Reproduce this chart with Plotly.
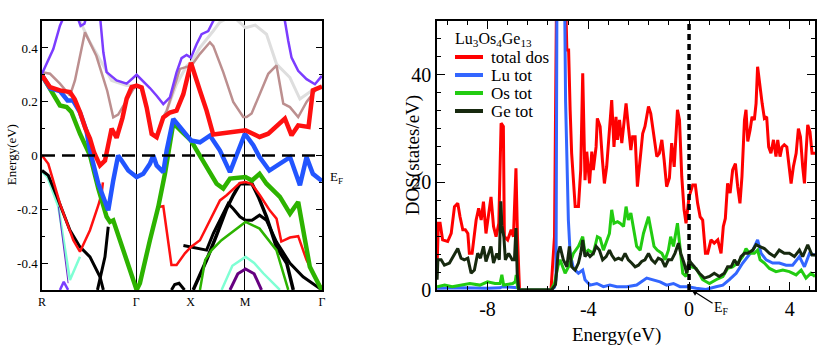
import plotly.graph_objects as go

# ---------------- band structure (left panel) ----------------
# k-path positions, units of 2*pi/a : R - Gamma - X - M - Gamma
k_ticks = [0.0, 0.866, 1.366, 1.866, 2.573]
k_labels = ['R', 'Γ', 'X', 'M', 'Γ']
e_ticks = [-0.4, -0.2, 0.0, 0.2, 0.4]
e_labels = ['-0.4', '-0.2', '0', '0.2', '0.4']

gray_k = [0.349, 0.441, 0.564, 0.64, 0.778, 0.87, 0.916, 0.962, 1.008, 1.054, 1.115, 1.146, 1.237, 1.329,
          1.369, 1.452, 1.574, 1.635, 1.75, 1.871, 1.96, 2.064, 2.156, 2.279, 2.371, 2.478, 2.573]
gray_e = [0.50, 0.421, 0.335, 0.279, 0.26, 0.26, 0.253, 0.179, 0.085, 0.072, 0.142, 0.167, 0.265, 0.333,
          0.346, 0.401, 0.463, 0.496, 0.52, 0.475, 0.485, 0.451, 0.34, 0.29, 0.21, 0.241, 0.259]

rosy_k = [0.0, 0.074, 0.165, 0.257, 0.303, 0.349, 0.395, 0.50, 0.60, 0.655, 0.70, 0.778, 0.84, 0.87, 0.916,
          0.962, 1.008, 1.054, 1.115, 1.146, 1.268, 1.375, 1.452, 1.544, 1.575, 1.666, 1.758, 1.85, 1.881,
          1.927, 2.0, 2.08, 2.156, 2.218, 2.279, 2.355, 2.432, 2.524, 2.573]
rosy_e = [0.31, 0.304, 0.267, 0.223, 0.279, 0.372, 0.458, 0.37, 0.24, 0.142, 0.152, 0.205, 0.248, 0.26, 0.253,
          0.179, 0.085, 0.072, 0.142, 0.165, 0.322, 0.335, 0.378, 0.421, 0.407, 0.31, 0.199, 0.143, 0.143,
          0.156, 0.23, 0.304, 0.335, 0.193, 0.18, 0.143, 0.199, 0.248, 0.256]

purple_k = [0.0, 0.104, 0.165, 0.25, 0.33, 0.355, 0.39, 0.41, 0.47, 0.533, 0.564, 0.594, 0.686, 0.778, 0.87,
            0.992, 1.054, 1.115, 1.176, 1.237, 1.283, 1.329, 1.369, 1.421, 1.467, 1.528, 1.574, 1.7, 2.1,
            2.233, 2.264, 2.294, 2.355, 2.432, 2.509, 2.573]
purple_e = [0.304, 0.396, 0.483, 0.56, 0.51, 0.482, 0.49, 0.52, 0.56, 0.52, 0.384, 0.31, 0.279, 0.267, 0.30,
            0.251, 0.222, 0.191, 0.216, 0.309, 0.362, 0.374, 0.364, 0.414, 0.451, 0.463, 0.50, 0.58, 0.58,
            0.50, 0.426, 0.364, 0.315, 0.284, 0.265, 0.296]

aqua1_k = [0.0, 0.05, 0.15, 0.257, 0.349]
aqua1_e = [-0.06, -0.08, -0.19, -0.463, -0.377]
aqua2_k = [1.651, 1.75, 1.871, 1.95, 2.034, 2.187]
aqua2_e = [-0.5, -0.41, -0.377, -0.40, -0.438, -0.5]

violet_k = [0.15, 0.24]
violet_e = [-0.19, -0.475]
violet_arc_k = [0.165, 0.2, 0.24]
violet_arc_e = [-0.5, -0.47, -0.5]
indigo_k = [1.728, 1.8, 1.871, 1.95, 2.018]
indigo_e = [-0.5, -0.44, -0.422, -0.44, -0.5]

black1_k = [0.0, 0.058, 0.135, 0.257, 0.349, 0.441, 0.533, 0.564]
black1_e = [-0.056, -0.074, -0.15, -0.278, -0.34, -0.377, -0.451, -0.5]
black2_k = [0.51, 0.533, 0.579, 0.609]
black2_e = [-0.5, -0.457, -0.377, -0.265]
black3_k = [1.19, 1.22, 1.26, 1.29, 1.31]
black3_e = [-0.5, -0.48, -0.475, -0.49, -0.5]
black4_k = [1.30, 1.369, 1.436, 1.513, 1.575, 1.636, 1.712, 1.758, 1.82, 1.871, 1.93, 2.0, 2.064, 2.155,
            2.28, 2.4, 2.524, 2.573]
black4_e = [-0.335, -0.34, -0.346, -0.352, -0.29, -0.241, -0.179, -0.198, -0.228, -0.241, -0.241, -0.222,
            -0.241, -0.321, -0.401, -0.451, -0.488, -0.5]
black5_k = [1.39, 1.513, 1.605, 1.697, 1.758, 1.82, 1.871, 1.93, 1.99, 2.064, 2.155, 2.25, 2.31]
black5_e = [-0.5, -0.389, -0.296, -0.198, -0.148, -0.105, -0.105, -0.105, -0.154, -0.228, -0.34, -0.401, -0.5]

green_thin_k = [1.452, 1.5, 1.56, 1.65, 1.871, 2.0, 2.155, 2.2, 2.264]
green_thin_e = [-0.5, -0.389, -0.352, -0.315, -0.247, -0.272, -0.352, -0.414, -0.5]

red_thin1_k = [0.0, 0.058, 0.165, 0.288, 0.349, 0.441, 0.518, 0.548, 0.56]
red_thin1_e = [0.0, -0.031, -0.179, -0.315, -0.358, -0.278, -0.185, -0.142, -0.10]
red_thin2_k = [1.084, 1.115, 1.19, 1.237, 1.314, 1.369, 1.452, 1.544, 1.636, 1.697, 1.758, 1.82, 1.871,
               1.927, 2.003, 2.095, 2.156, 2.2, 2.279, 2.355, 2.432, 2.509, 2.573]
red_thin2_e = [-0.191, -0.189, -0.407, -0.407, -0.364, -0.34, -0.315, -0.241, -0.167, -0.148, -0.125,
               -0.102, -0.099, -0.105, -0.148, -0.205, -0.235, -0.32, -0.305, -0.30, -0.389, -0.451, -0.495]

green_k = [0.0, 0.104, 0.165, 0.227, 0.27, 0.35, 0.441, 0.518, 0.594, 0.625, 0.655, 0.87, 0.90, 0.992, 1.069,
           1.13, 1.16, 1.207, 1.283, 1.369, 1.421, 1.513, 1.605, 1.666, 1.728, 1.871, 1.93, 2.0, 2.064, 2.187,
           2.28, 2.355, 2.4, 2.462, 2.555, 2.573]
green_e = [0.298, 0.223, 0.186, 0.18, 0.162, 0.08, 0.001, -0.123, -0.228, -0.247, -0.241, -0.5, -0.475,
           -0.315, -0.191, -0.068, 0.006, 0.12, 0.09, 0.056, 0.02, -0.043, -0.105, -0.123, -0.086, -0.08,
           -0.093, -0.068, -0.105, -0.154, -0.216, -0.173, -0.278, -0.414, -0.488, -0.5]

blue_k = [0.0, 0.074, 0.165, 0.211, 0.235, 0.285, 0.349, 0.41, 0.441, 0.518, 0.579, 0.609, 0.655, 0.70, 0.732,
          0.793, 0.87, 0.931, 0.992, 1.023, 1.054, 1.115, 1.146, 1.207, 1.283, 1.369, 1.452, 1.544, 1.605,
          1.636, 1.728, 1.80, 1.865, 1.942, 2.0, 2.09, 2.187, 2.28, 2.371, 2.432, 2.49, 2.555, 2.573]
blue_e = [0.298, 0.25, 0.24, 0.216, 0.205, 0.205, 0.16, 0.09, 0.0185, -0.105, -0.167, -0.204, -0.093, 0.0,
          -0.0185, -0.056, -0.08, -0.068, -0.031, 0.0, -0.037, -0.062, 0.0185, 0.136, 0.099, 0.056, 0.049,
          0.074, 0.037, 0.0185, -0.062, 0.0185, 0.081, 0.038, -0.006, -0.056, -0.031, -0.006, -0.111, -0.006,
          -0.068, -0.093, -0.095]

red_k = [0.0, 0.074, 0.165, 0.257, 0.30, 0.349, 0.40, 0.441, 0.48, 0.533, 0.579, 0.61, 0.64, 0.686, 0.74,
         0.778, 0.824, 0.87, 0.916, 0.962, 1.008, 1.054, 1.115, 1.176, 1.237, 1.299, 1.369, 1.452, 1.513,
         1.574, 1.728, 1.871, 2.0, 2.08, 2.233, 2.294, 2.355, 2.45, 2.49, 2.573]
red_e = [0.298, 0.254, 0.242, 0.236, 0.21, 0.162, 0.10, 0.063, 0.01, -0.037, -0.019, 0.04, 0.10, 0.066, 0.14,
         0.211, 0.254, 0.26, 0.253, 0.179, 0.08, 0.068, 0.142, 0.16, 0.167, 0.228, 0.345, 0.241, 0.167,
         0.078, 0.088, 0.094, 0.069, 0.081, 0.137, 0.075, 0.112, 0.106, 0.242, 0.256]

bands = [
    (gray_k, gray_e, '#dedede', 3),
    (rosy_k, rosy_e, '#bc8f8f', 2.5),
    (purple_k, purple_e, '#7b3cff', 2.5),
    (aqua1_k, aqua1_e, '#7fffd4', 2.5),
    (aqua2_k, aqua2_e, '#7fffd4', 2.5),
    (violet_k, violet_e, '#6a2cc8', 1),
    (violet_arc_k, violet_arc_e, '#7b3cff', 2.5),
    (indigo_k, indigo_e, '#660080', 3),
    (black1_k, black1_e, 'black', 3),
    (black2_k, black2_e, 'black', 3),
    (black3_k, black3_e, 'black', 3),
    (black4_k, black4_e, 'black', 3),
    (black5_k, black5_e, 'black', 3.5),
    (green_thin_k, green_thin_e, '#2db300', 2.5),
    (red_thin1_k, red_thin1_e, '#ff1010', 2.5),
    (red_thin2_k, red_thin2_e, '#ff1010', 2.5),
    (green_k, green_e, '#2db300', 4.5),
    (blue_k, blue_e, '#2255ff', 4.5),
    (red_k, red_e, '#ff1010', 4.5),
]

# ---------------- DOS (right panel) ----------------
tot_x = [-10, -9.95, -9.88, -9.78, -9.58, -9.44, -9.31, -9.18, -9.09, -8.98,
         -8.88, -8.78, -8.72, -8.61, -8.45, -8.35, -8.25, -8.16, -8.06, -7.96,
         -7.86, -7.76, -7.66, -7.55, -7.46, -7.37, -7.33, -7.20, -7.06, -6.97,
         -6.87, -6.81, -6.73, -5.48, -5.34, -5.25, -4.93, -4.85, -4.78, -4.72,
         -4.66, -4.52, -4.39, -4.30, -4.22, -4.13, -4.06, -3.95, -3.86, -3.80,
         -3.69, -3.64, -3.53, -3.44, -3.36, -3.27, -3.16, -3.07, -2.98, -2.90,
         -2.84, -2.76, -2.67, -2.58, -2.50, -2.41, -2.31, -2.24, -2.14, -2.05,
         -1.94, -1.84, -1.75, -1.61, -1.52, -1.42, -1.28, -1.18, -1.08, -0.99,
         -0.89, -0.78, -0.69, -0.59, -0.46, -0.38, -0.29, -0.20, -0.12, 0.0,
         0.145, 0.25, 0.34, 0.44, 0.54, 0.65, 0.74, 0.87, 1.0, 1.14,
         1.27, 1.36, 1.44, 1.53, 1.63, 1.73, 1.84, 1.93, 2.02, 2.10,
         2.20, 2.26, 2.33, 2.42, 2.50, 2.59, 2.66, 2.72, 2.79, 2.90,
         2.99, 3.08, 3.16, 3.25, 3.35, 3.45, 3.52, 3.61, 3.69, 3.78,
         3.88, 3.95, 4.05, 4.14, 4.25, 4.34, 4.42, 4.51, 4.58, 4.64,
         4.71, 4.80, 4.88, 5.0]
tot_y = [4.5, 12.4, 12.4, 9.3, 9.0, 10.5, 15.5, 16.1, 13.6, 11.2,
         11.2, 10.5, 6.8, 6.8, 13.0, 15.2, 13.0, 16.4, 10.5, 13.6,
         17.3, 11.8, 9.9, 12.4, 31.0, 30.4, 9.9, 9.3, 11.2, 9.9,
         22.6, 9.9, 0, 0, 9.9, 60, 60, 44.6, 44.6, 33.5,
         25.4, 15.5, 15.5, 22.3, 40.3, 20.4, 25.7, 19.8, 25.7, 22.3,
         26.6, 31.9, 30.4, 24.2, 19.8, 22.9, 30.4, 35.3, 26.6, 32.2,
         27.9, 31.6, 27.3, 31.6, 34.7, 30.4, 26.0, 28.5, 28.5, 19.2,
         24.2, 29.1, 30.4, 34.1, 32.8, 29.7, 24.8, 25.4, 27.9, 24.2,
         19.2, 20.8, 27.3, 22.9, 33.5, 31.6, 21.1, 15.0, 12.4, 17.3,
         19.5, 19.5, 16.1, 13.6, 13.0, 6.8, 6.8, 9.3, 8.7, 9.3,
         6.8, 11.8, 13.3, 19.8, 18.0, 22.3, 23.5, 19.2, 16.1, 21.1,
         31.6, 33.5, 27.6, 29.7, 32.2, 31.6, 34.7, 41.5, 38.4, 34.7,
         31.9, 32.2, 26.6, 25.4, 27.9, 24.8, 27.9, 24.8, 26.6, 27.0,
         26.6, 24.2, 19.8, 22.9, 25.4, 30.0, 28.5, 22.9, 19.8, 25.4,
         30.7, 29.4, 25.4, 25.4]

lu_x = [-10, -9, -8, -7.5, -7.4, -7, -6.8, -6.73, -5.48, -5.34,
        -5.28, -5.24, -4.95, -4.90, -4.85, -4.79, -4.72, -4.59, -4.39, -4.22,
        -4.13, -3.93, -3.66, -3.40, -3.14, -2.87, -2.47, -2.08, -1.68, -1.42,
        -1.15, -0.89, -0.62, -0.36, -0.03, 0.28, 0.67, 1.07, 1.34, 1.6,
        1.87, 2.13, 2.33, 2.53, 2.72, 2.86, 3.06, 3.32, 3.58, 3.85,
        4.11, 4.38, 4.58, 4.78, 5.0]
lu_y = [0.3, 0.4, 0.3, 0.4, 0.6, 0.4, 0.4, 0, 0, 0.5,
        2, 60, 60, 35, 22, 13, 6.8, 4.0, 3.1, 3.7,
        1.9, 0.9, 1.2, 0.6, 0.9, 0.6, 0.6, 0.9, 2.2, 1.9,
        1.5, 0.9, 1.2, 0.6, 0.6, 0.3, 0.1, 0.6, 0.9, 1.9,
        3.1, 5.0, 6.2, 7.4, 9.3, 6.8, 5.6, 5.0, 5.0, 4.6,
        4.6, 6.2, 4.3, 6.8, 6.5]

os_x = [-10, -9.7, -9.4, -9.0, -8.7, -8.3, -8.0, -7.7, -7.5, -7.43,
        -7.36, -7.0, -6.9, -6.86, -6.8, -6.73, -5.48, -5.34, -5.2, -5.12,
        -4.92, -4.75, -4.59, -4.39, -4.22, -4.13, -4.0, -3.80, -3.64, -3.53,
        -3.40, -3.16, -3.07, -2.98, -2.84, -2.74, -2.6, -2.50, -2.41, -2.31,
        -2.21, -2.08, -1.94, -1.81, -1.61, -1.52, -1.39, -1.26, -1.08, -0.95,
        -0.82, -0.73, -0.62, -0.46, -0.36, -0.25, -0.12, 0.0, 0.08, 0.28,
        0.54, 0.81, 1.07, 1.34, 1.53, 1.73, 1.93, 2.13, 2.26, 2.40,
        2.59, 2.72, 2.82, 2.99, 3.19, 3.45, 3.72, 3.98, 4.25, 4.45,
        4.64, 4.84, 5.0]
os_y = [0.6, 0.9, 0.6, 0.9, 1.2, 0.9, 1.5, 1.2, 1.2, 2.8,
        0.9, 1.2, 1.5, 2.8, 0.4, 0, 0, 1.2, 4.5, 5.6,
        3.1, 4.6, 6.8, 8.1, 9.9, 6.8, 7.4, 6.8, 9.9, 9.6,
        7.4, 10.5, 14.9, 12.4, 12.7, 12.4, 11.8, 15.5, 13.0, 14.3,
        11.2, 8.1, 7.4, 10.5, 13.6, 11.2, 8.1, 7.4, 6.8, 5.6,
        7.4, 9.9, 8.1, 12.4, 8.1, 3.1, 2.5, 5.0, 4.3, 4.0,
        1.9, 1.2, 1.9, 2.5, 4.0, 4.3, 5.0, 6.2, 7.7, 6.8,
        6.8, 7.4, 5.6, 5.0, 4.0, 3.4, 3.7, 3.4, 2.8, 3.7,
        2.2, 3.1, 2.5]

ge_x = [-10, -9.97, -9.84, -9.71, -9.51, -9.31, -9.18, -9.05, -8.92, -8.78,
        -8.65, -8.52, -8.39, -8.28, -8.16, -8.06, -7.95, -7.86, -7.76, -7.63,
        -7.53, -7.47, -7.43, -7.35, -7.29, -7.16, -7.02, -6.93, -6.87, -6.82,
        -6.76, -5.45, -5.30, -5.2, -5.12, -4.99, -4.85, -4.75, -4.66, -4.52,
        -4.39, -4.30, -4.22, -4.13, -4.03, -3.93, -3.80, -3.69, -3.56, -3.43,
        -3.29, -3.16, -3.07, -2.94, -2.80, -2.67, -2.54, -2.41, -2.28, -2.14,
        -2.01, -1.88, -1.75, -1.61, -1.48, -1.35, -1.22, -1.08, -0.95, -0.82,
        -0.69, -0.56, -0.42, -0.33, -0.20, -0.09, 0.0, 0.08, 0.21, 0.41,
        0.61, 0.81, 1.0, 1.2, 1.4, 1.53, 1.67, 1.80, 1.93, 2.06,
        2.20, 2.33, 2.53, 2.66, 2.79, 2.99, 3.19, 3.39, 3.58, 3.78,
        3.98, 4.18, 4.38, 4.51, 4.71, 4.88, 5.0]
ge_y = [1.9, 5.6, 5.6, 4.6, 5.0, 6.8, 7.7, 5.9, 5.6, 5.9,
        3.1, 3.7, 6.8, 5.9, 8.1, 5.3, 6.8, 8.1, 5.0, 6.8,
        5.6, 16.5, 12, 9.9, 5.6, 6.8, 5.6, 5.6, 11.5, 3,
        0, 0, 1, 6.8, 8.1, 5.6, 4.3, 8.1, 4.3, 3.7,
        5.0, 6.8, 9.3, 6.2, 6.8, 6.2, 6.8, 8.1, 7.4, 5.6,
        6.2, 7.4, 6.5, 5.6, 5.9, 5.6, 6.8, 5.6, 5.0, 4.3,
        4.6, 5.3, 5.6, 6.8, 5.6, 5.0, 5.9, 5.6, 4.3, 5.6,
        5.6, 6.8, 8.7, 6.8, 5.0, 3.1, 5.6, 5.0, 4.3, 3.1,
        2.2, 2.5, 3.1, 2.5, 3.1, 4.3, 4.3, 5.6, 4.6, 6.2,
        6.8, 6.8, 7.4, 8.4, 8.1, 7.7, 6.8, 6.2, 7.4, 6.8,
        6.8, 6.2, 7.4, 6.2, 8.4, 6.5, 6.5]

dos_series = [
    ('total dos', tot_x, tot_y, '#ff0000'),
    ('Lu tot', lu_x, lu_y, '#3366ff'),
    ('Os tot', os_x, os_y, '#22cc11'),
    ('Ge tot', ge_x, ge_y, '#17290f'),
]

FONT = 'Liberation Serif, Times New Roman, serif'

fig = go.Figure()

for kk, ee, col, w in bands:
    fig.add_trace(go.Scatter(x=kk, y=ee, mode='lines', line=dict(color=col, width=w),
                             xaxis='x', yaxis='y', showlegend=False, hoverinfo='skip'))

for name, xx, yy, col in dos_series:
    fig.add_trace(go.Scatter(x=xx, y=yy, mode='lines', name=name, line=dict(color=col, width=3),
                             xaxis='x2', yaxis='y2', showlegend=False))

# Fermi level markers
fig.add_shape(type='line', xref='x', yref='y', x0=0, x1=2.573, y0=0, y1=0,
              line=dict(color='black', width=2.5, dash='13px,7px'))
fig.add_shape(type='line', xref='x2', yref='y2', x0=0, x1=0, y0=0, y1=50,
              line=dict(color='black', width=3.5, dash='6px,4px'))

# hand-placed legend, tighter than the built-in one
annotations = [
    dict(text='Lu<sub>3</sub>Os<sub>4</sub>Ge<sub>13</sub>', x=0.5545, y=0.888, xref='paper', yref='paper',
         xanchor='left', yanchor='middle', showarrow=False, font=dict(size=16)),
]
row_y = [0.8376, 0.7863, 0.735, 0.6837]
for (name, _, _, col), ry in zip(dos_series, row_y):
    fig.add_shape(type='line', xref='paper', yref='paper', x0=0.5569, x1=0.5912, y0=ry, y1=ry,
                  line=dict(color=col, width=4))
    annotations.append(dict(text=name, x=0.5985, y=ry, xref='paper', yref='paper', xanchor='left',
                            yanchor='middle', showarrow=False, font=dict(size=17)))

annotations += [
    dict(text='Energy(eV)', x=0.0135, y=0.558, xref='paper', yref='paper', textangle=-90,
         xanchor='center', yanchor='middle', showarrow=False, font=dict(size=13)),
    dict(text='E<sub>F</sub>', x=0.4015, y=0.493, xref='paper', yref='paper', xanchor='left',
         yanchor='middle', showarrow=False, font=dict(size=13)),
    dict(text='DOS(states/eV)', x=0.5055, y=0.558, xref='paper', yref='paper', textangle=-90,
         xanchor='center', yanchor='middle', showarrow=False, font=dict(size=19)),
    dict(text='Energy(eV)', x=0.755, y=0.0456, xref='paper', yref='paper',
         xanchor='center', yanchor='middle', showarrow=False, font=dict(size=19)),
    dict(text='E<sub>F</sub>', x=0.1, y=0, xref='x2', yref='y2', showarrow=True, arrowhead=2,
         arrowsize=1, arrowwidth=1.2, arrowcolor='black', ax=30, ay=19, font=dict(size=14)),
]

axis_common = dict(showline=True, linecolor='black', linewidth=1.5, zeroline=False, tickcolor='black',
                   automargin=False)

fig.update_layout(
    width=817, height=351, autosize=False,
    margin=dict(l=0, r=0, t=0, b=0, pad=0, autoexpand=False),
    paper_bgcolor='white', plot_bgcolor='white',
    font=dict(family=FONT, color='black'),
    showlegend=False,
    xaxis=dict(domain=[0.0514, 0.394], range=[0, 2.573], tickmode='array', tickvals=k_ticks,
               ticktext=k_labels, ticks='', showgrid=True, gridcolor='black', gridwidth=1.3,
               mirror=True, tickfont=dict(family=FONT, size=12, color='black'), **axis_common),
    yaxis=dict(domain=[0.174, 0.94], range=[-0.5, 0.5], tickmode='array', tickvals=e_ticks,
               ticktext=e_labels, ticks='inside', ticklen=6, mirror='ticks', showgrid=False,
               minor=dict(ticks='inside', ticklen=3, tickvals=[-0.5, -0.3, -0.1, 0.1, 0.3, 0.5],
                          tickcolor='black'),
               tickfont=dict(family=FONT, size=13, color='black'), **axis_common),
    xaxis2=dict(domain=[0.535, 0.9976], range=[-10, 5], tickmode='array', tickvals=[-8, -4, 0, 4],
                ticktext=['-8', '-4', '0', '4'], ticks='inside', ticklen=8, mirror='ticks', showgrid=False,
                minor=dict(ticks='inside', ticklen=4, dtick=0.8, tick0=0, tickcolor='black'),
                anchor='y2', tickfont=dict(family=FONT, size=20, color='black'), **axis_common),
    yaxis2=dict(domain=[0.174, 0.94], range=[0, 50], tickmode='array', tickvals=[0, 20, 40],
                ticktext=['0', '20', '40'], ticks='inside', ticklen=8, mirror='ticks', showgrid=False,
                minor=dict(ticks='inside', ticklen=4, dtick=20 / 6, tick0=0, tickcolor='black'),
                anchor='x2', tickfont=dict(family=FONT, size=20, color='black'), **axis_common),
    annotations=annotations,
)

# the page's default body margin would push the figure off the window
fig.write_html('out.html', config={'displayModeBar': False, 'responsive': False},
               post_script="document.body.style.margin='0px';")
